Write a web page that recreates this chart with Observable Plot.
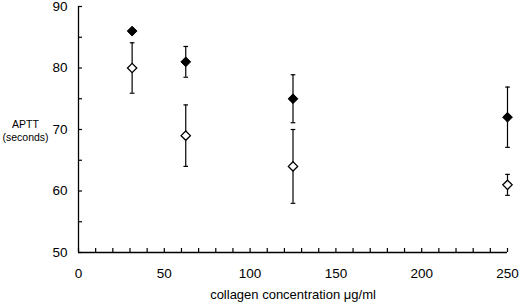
<!DOCTYPE html>
<html>
<head>
<meta charset="utf-8">
<script src="https://cdn.jsdelivr.net/npm/d3@7"></script>
<script src="https://cdn.jsdelivr.net/npm/@observablehq/plot@0.6"></script>
<style>
  html, body { margin: 0; padding: 0; background: #fff; }
  #chart svg { display: block; }
</style>
</head>
<body>
<div id="chart"></div>
<script>
// Data
const concentrations = [31.25, 62.5, 125, 250];
const filledMeans = [86, 81, 75, 72];
const filledErrors = [0, 2.5, 3.9, 4.9];
const openMeans = [80, 69, 64, 61];
const openErrors = [4.1, 5.0, 6.0, 1.7];
const xTicks = [0, 50, 100, 150, 200, 250];
const yTicks = [50, 60, 70, 80, 90];
const xMinorTicks = d3.range(0, 251, 10);
const yMinorTicks = d3.range(50, 91, 5);

const filled = concentrations.map((x, i) => ({x, y: filledMeans[i], e: filledErrors[i]}));
const open = concentrations.map((x, i) => ({x, y: openMeans[i], e: openErrors[i]}));
const bars = [...filled, ...open].filter(d => d.e > 0);

// horizontal cap symbol for error bars
const capSymbol = {
  draw(context, size) {
    const w = Math.sqrt(size) / 2;
    context.moveTo(-w, 0);
    context.lineTo(w, 0);
  }
};

const font = "'Liberation Sans', Arial, sans-serif";

const chart = Plot.plot({
  width: 520,
  height: 308,
  marginLeft: 78,
  marginRight: 13,
  marginTop: 6,
  marginBottom: 56,
  style: {fontFamily: font, fontSize: "13px", color: "#000", background: "#fff"},
  x: {domain: [0, 250]},
  y: {domain: [50, 90]},
  marks: [
    // inward minor ticks: normal outward ticks shifted inside the frame
    Plot.axisX({ticks: xMinorTicks, tickSize: 4, dy: -4, tickFormat: () => "", label: null, stroke: "#000", strokeWidth: 1.2, strokeOpacity: 1}),
    Plot.axisY({ticks: yMinorTicks, tickSize: 4, dx: 4, tickFormat: () => "", label: null, stroke: "#000", strokeWidth: 1.2, strokeOpacity: 1}),
    // labels
    Plot.axisX({ticks: xTicks, tickSize: 0, tickPadding: 16, label: null, fontSize: 13.5}),
    Plot.axisY({ticks: yTicks, tickSize: 0, tickPadding: 11, label: null, fontSize: 13.5}),
    Plot.ruleY([50], {stroke: "#000", strokeWidth: 1.3}),
    Plot.ruleX([0], {stroke: "#000", strokeWidth: 1.3}),
    // error bars
    Plot.ruleX(bars, {x: "x", y1: d => d.y - d.e, y2: d => d.y + d.e, stroke: "#000", strokeWidth: 1.2}),
    Plot.dot(bars, {x: "x", y: d => d.y - d.e, symbol: capSymbol, r: 2.6, stroke: "#000", strokeWidth: 1.2}),
    Plot.dot(bars, {x: "x", y: d => d.y + d.e, symbol: capSymbol, r: 2.6, stroke: "#000", strokeWidth: 1.2}),
    // points
    Plot.dot(open, {x: "x", y: "y", symbol: "diamond2", r: 4.2, fill: "#fff", stroke: "#000", strokeWidth: 1.3}),
    Plot.dot(filled, {x: "x", y: "y", symbol: "diamond2", r: 4.4, fill: "#000", stroke: "#000", strokeWidth: 1}),
    // axis titles
    Plot.text(["APTT\n(seconds)"], {frameAnchor: "left", dx: -53, dy: 1, fontSize: 10.5, lineHeight: 1.2, textAnchor: "middle", fill: "#000"}),
    Plot.text(["collagen concentration μg/ml"], {frameAnchor: "bottom", dy: 46, fontSize: 13, textAnchor: "middle", fill: "#000"})
  ]
});
document.getElementById("chart").append(chart);
</script>
</body>
</html>
